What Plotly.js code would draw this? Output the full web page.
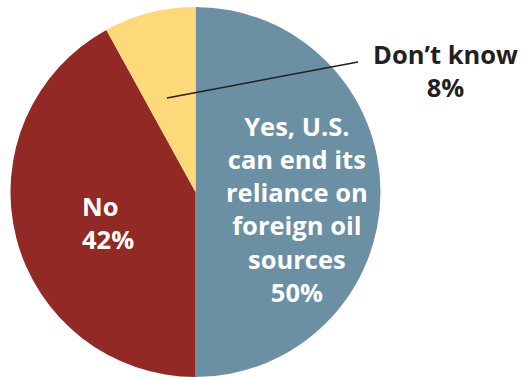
<!DOCTYPE html>
<html><head><meta charset="utf-8">
<script src="https://cdn.plot.ly/plotly-3.0.1.min.js"></script>
<style>html,body{margin:0;padding:0;background:#fff}#chart{width:529px;height:377px}</style>
</head><body><div id="chart"></div>
<script>
const labels = ["Yes, U.S.<br>can end its<br>reliance on<br>foreign oil<br>sources", "No", "Don’t know"];
const values = [50, 42, 8];
const colors = ["#6b8fa3", "#922925", "#fed97a"];

const W = 529, H = 377;
const px = x => x / W, py = y => 1 - y / H;
const font = "'Open Sans', 'Noto Sans', sans-serif";

const trace = {
  type: "pie",
  labels: labels,
  values: values,
  sort: false,
  direction: "clockwise",
  rotation: 0,
  textinfo: "none",
  hoverinfo: "label+percent",
  marker: {colors: colors, line: {width: 0}},
  domain: {x: [px(10.5), px(380.5)], y: [py(377), py(7)]},
  showlegend: false
};

const annotations = [
  {x: px(297), y: py(209), text: labels[0] + "<br>" + values[0] + "%", color: "#ffffff", xanchor: "center"},
  {x: px(80), y: py(222), text: labels[1] + "<br>" + values[1] + "%", color: "#ffffff", align: "left", xanchor: "left"},
  {x: px(445), y: py(71), text: labels[2] + "<br>" + values[2] + "%", color: "#231f20", xanchor: "center"}
].map(a => ({
  xref: "paper", yref: "paper", x: a.x, y: a.y, text: "<b>" + a.text.replace(/<br>/g, "</b><br><b>") + "</b>",
  showarrow: false, align: a.align || "center", xanchor: a.xanchor, yanchor: "middle",
  font: {family: font, size: 25.5, color: a.color}
}));

const layout = {
  width: W, height: H,
  margin: {l: 0, r: 0, t: 0, b: 0},
  paper_bgcolor: "#ffffff",
  annotations: annotations,
  shapes: [{type: "line", xref: "paper", yref: "paper", x0: px(167), y0: py(98), x1: px(358), y1: py(62), line: {color: "#231f20", width: 1.5}}]
};

Plotly.newPlot("chart", [trace], layout, {displayModeBar: false, staticPlot: true});
</script></body></html>
